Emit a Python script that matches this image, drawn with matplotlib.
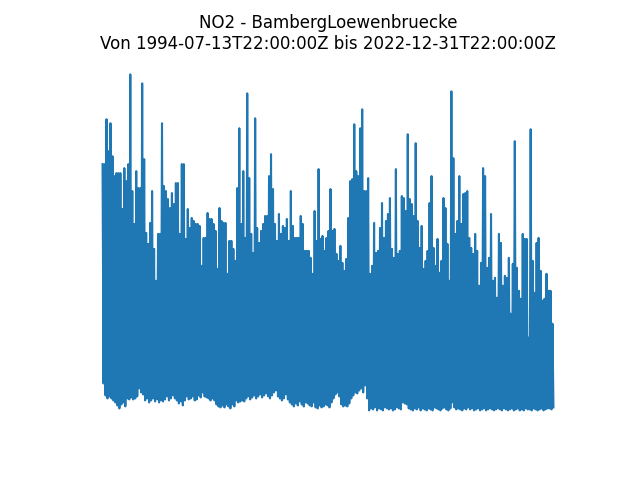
import numpy as np
import pandas as pd
import matplotlib
matplotlib.use("Agg")
import matplotlib.pyplot as plt

station = "BambergLoewenbruecke"
start = "1994-07-13T22:00:00Z"
end = "2022-12-31T22:00:00Z"

# upper envelope (peaks) of the NO2 series
highs = [247, 247, 292, 260, 288, 255, 235, 238, 238, 238,
         202, 243, 230, 247, 337, 220, 187, 240, 223, 223,
         328, 252, 178, 167, 188, 220, 162, 130, 177, 177,
         288, 225, 220, 212, 203, 218, 207, 228, 228, 177,
         247, 247, 172, 202, 183, 193, 190, 187, 187, 185,
         145, 173, 173, 198, 192, 192, 187, 180, 142, 203,
         190, 188, 188, 137, 170, 170, 162, 150, 223, 283,
         187, 240, 173, 318, 233, 177, 158, 293, 183, 168,
         180, 187, 195, 195, 235, 257, 222, 187, 170, 197,
         177, 185, 183, 192, 170, 220, 185, 173, 173, 173,
         195, 187, 160, 160, 160, 153, 137, 200, 170, 242,
         172, 175, 160, 173, 180, 222, 180, 182, 157, 150,
         165, 148, 140, 152, 193, 230, 232, 287, 240, 235,
         283, 302, 220, 220, 233, 137, 145, 188, 158, 160,
         183, 208, 173, 190, 197, 213, 162, 153, 242, 157,
         160, 215, 213, 200, 277, 212, 207, 195, 268, 190,
         163, 185, 142, 150, 160, 208, 235, 163, 145, 172,
         138, 150, 213, 203, 167, 130, 320, 253, 177, 190,
         235, 187, 217, 218, 220, 173, 163, 157, 177, 160,
         125, 148, 243, 235, 143, 153, 197, 130, 133, 113,
         177, 168, 125, 135, 133, 153, 97, 147, 270, 143,
         120, 112, 177, 172, 172, 73, 282, 150, 118, 168,
         173, 140, 110, 112, 137, 120, 120, 87]

# lower envelope (minima)
lows = [27, 15, 12, 14, 12, 10, 8, 5, 2, 6,
        8, 4, 12, 11, 13, 11, 12, 14, 22, 18,
        16, 10, 12, 8, 10, 12, 9, 11, 8, 10,
        9, 11, 14, 10, 12, 15, 12, 10, 7, 9,
        5, 10, 14, 11, 12, 14, 10, 11, 15, 13,
        18, 14, 13, 12, 10, 12, 10, 6, 4, 3,
        5, 3, 6, 4, 2, 6, 4, 10, 8, 9,
        10, 9, 12, 14, 11, 13, 15, 12, 14, 16,
        13, 15, 17, 14, 12, 15, 18, 20, 14, 12,
        10, 12, 16, 11, 8, 6, 4, 7, 5, 9,
        6, 4, 8, 7, 5, 4, 8, 3, 2, 5,
        3, 4, 6, 5, 3, 8, 12, 16, 18, 14,
        6, 4, 5, 4, 7, 12, 15, 18, 17, 20,
        22, 18, 25, 12, 0, 2, 1, 3, 0, 2,
        1, 0, 3, 2, 1, 2, 0, 1, 3, 2,
        1, 8, 7, 6, 2, 1, 0, 2, 1, 3,
        0, 2, 1, 0, 2, 1, 0, 3, 2, 1,
        0, 2, 3, 1, 0, 2, 8, 3, 1, 2,
        1, 0, 2, 1, 3, 1, 2, 0, 1, 2,
        0, 1, 2, 0, 1, 2, 1, 0, 1, 2,
        1, 0, 2, 1, 0, 1, 2, 0, 1, 2,
        0, 1, 0, 2, 1, 1, 0, 2, 1, 0,
        1, 2, 0, 1, 2, 2, 1, 3]

values = np.column_stack([highs, lows]).ravel()
times = pd.date_range(start, end, periods=len(values))

fig = plt.figure(figsize=(6.4, 4.8), dpi=100)
plt.plot(times, values)
plt.title("NO2 - " + station + "\nVon " + start + " bis " + end)
plt.axis("off")

plt.savefig("out.png", dpi=100)
